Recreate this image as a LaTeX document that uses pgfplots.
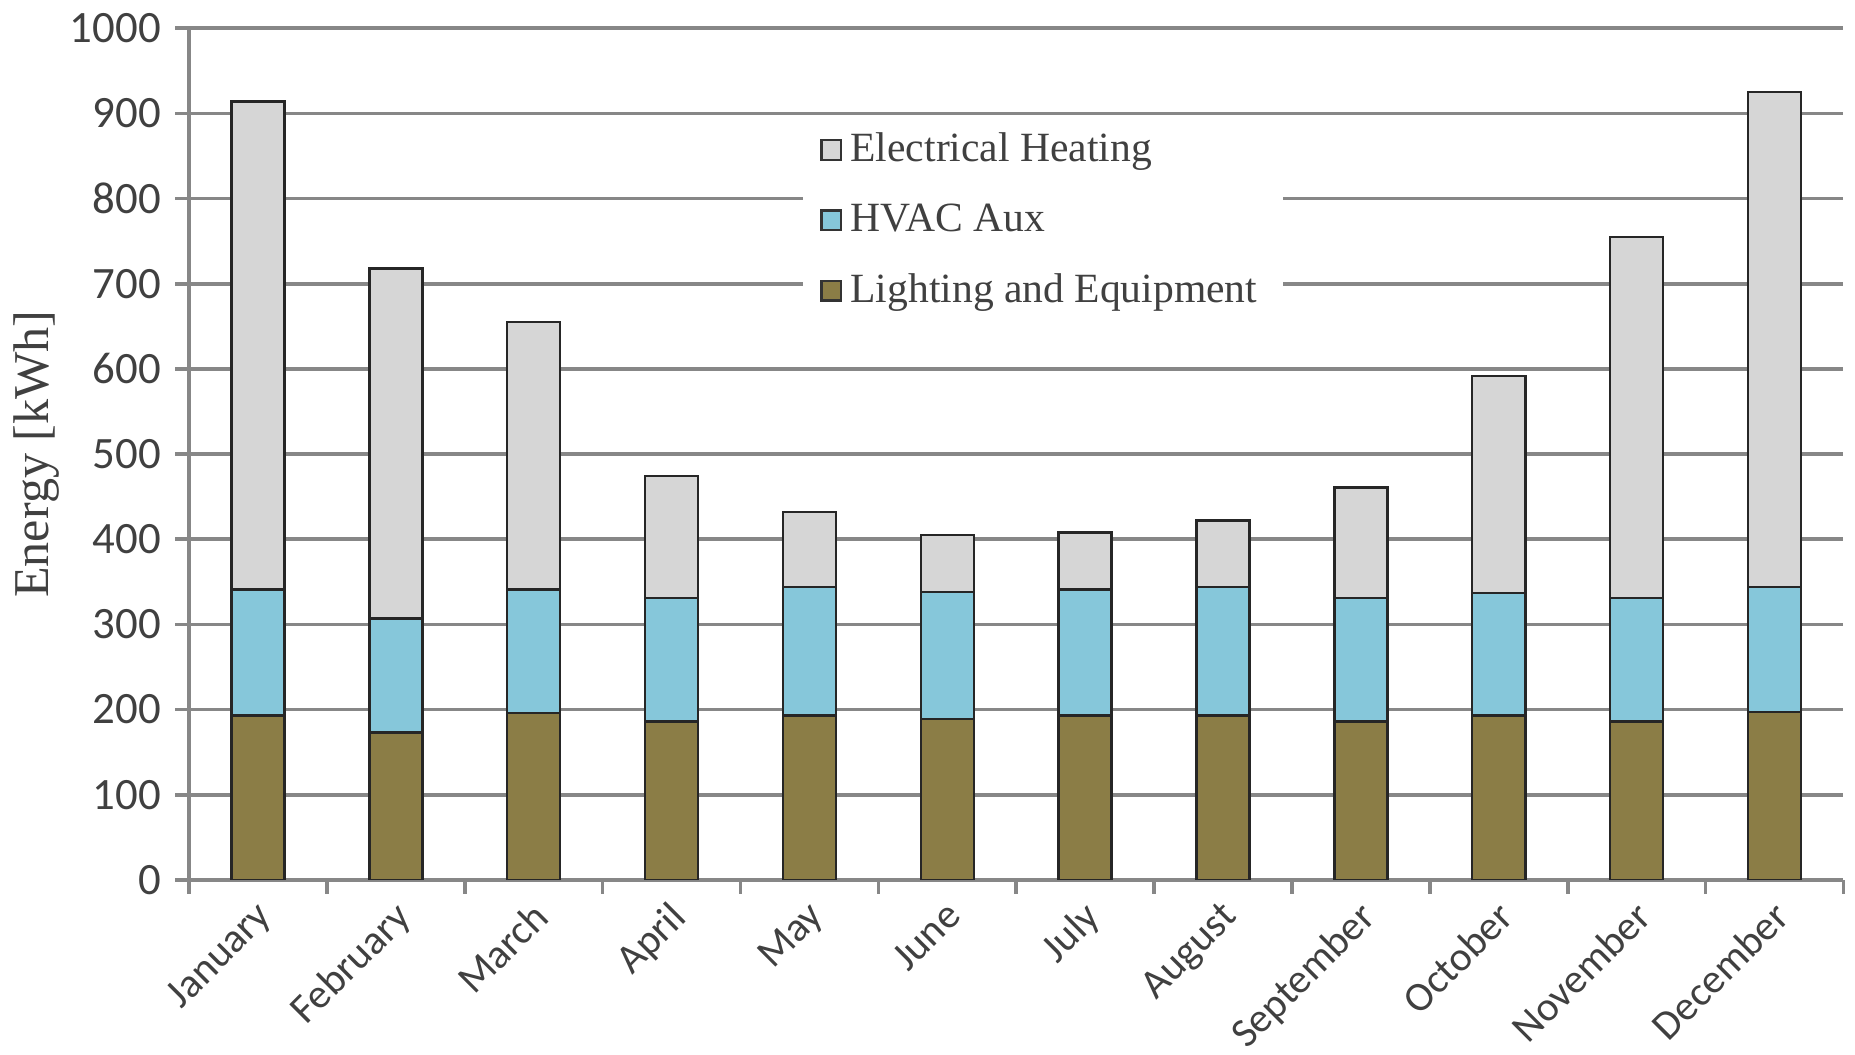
\documentclass[border=0pt]{standalone}
\usepackage{fontspec}
\setmainfont{Carlito}
\newfontfamily\serif{Liberation Serif}
\usepackage{pgfplots}
\pgfplotsset{compat=1.18}
\usepackage{pgfplotstable}

\definecolor{heatc}{RGB}{214,214,214}
\definecolor{hvacc}{RGB}{134,199,218}
\definecolor{lightc}{RGB}{139,125,70}
\definecolor{gridc}{RGB}{135,135,135}
\definecolor{txtc}{RGB}{64,64,64}

% monthly energy use [kWh], stacked from the bottom
\pgfplotstableread{
x light hvac heat
0  193 148 573
1  173 134 411
2  196 145 314
3  186 145 143
4  193 151  88
5  189 149  67
6  193 148  67
7  193 151  78
8  186 145 130
9  193 144 255
10 186 145 424
11 197 147 581
}\energy

\begin{document}
\begin{tikzpicture}
\begin{axis}[
  scale only axis,
  width=14.26cm, height=7.34cm,
  ybar stacked, bar width=0.385,
  xmin=-0.5, xmax=11.5, ymin=0, ymax=1000,
  ytick={0,100,...,1000},
  xtick={-0.5,0.5,...,11.5},
  x tick label as interval,
  xticklabels={January,February,March,April,May,June,July,August,September,October,November,December},
  axis x line*=bottom, axis y line*=left,
  axis line style={gridc, line width=0.9pt, -},
  ymajorgrids, grid style={gridc, line width=0.9pt},
  tick align=outside,
  major tick length=0.12cm,
  tick style={gridc, line width=0.9pt},
  xticklabel style={xshift=-0.03cm, yshift=-0.04cm, rotate=45, anchor=north east, inner sep=0pt,
    font=\fontsize{10.1}{12}\selectfont, text=txtc},
  yticklabel style={font=\fontsize{11}{13}\selectfont, text=txtc},
  /pgf/number format/assume math mode=true,
  /pgf/number format/1000 sep={},
  ylabel={Energy [kWh]},
  ylabel shift=-0.15cm,
  ylabel style={font=\serif\fontsize{12.3}{14}\selectfont, text=txtc},
  legend style={at={(0.3705,0.895)}, anchor=north west, draw=none, fill=white,
    font=\serif\fontsize{10.2}{12}\selectfont, text=txtc,
    row sep=0.17cm, inner xsep=0.15cm, inner ysep=0.05cm},
  legend cell align=left,
  reverse legend,
  legend image code/.code={\draw[#1, draw=black!80] (0cm,-0.085cm) rectangle (0.17cm,0.085cm);},
]
\addplot[fill=lightc, draw=black!85, line width=0.6pt] table[x=x, y=light]{\energy};
\addlegendentry{Lighting and Equipment}
\addplot[fill=hvacc, draw=black!85, line width=0.6pt] table[x=x, y=hvac]{\energy};
\addlegendentry{HVAC Aux}
\addplot[fill=heatc, draw=black!85, line width=0.6pt] table[x=x, y=heat]{\energy};
\addlegendentry{Electrical Heating}
\end{axis}
% a little white space to the right of the axis
\path (current axis.south east) ++(0.1cm,0);
\end{tikzpicture}
\end{document}
